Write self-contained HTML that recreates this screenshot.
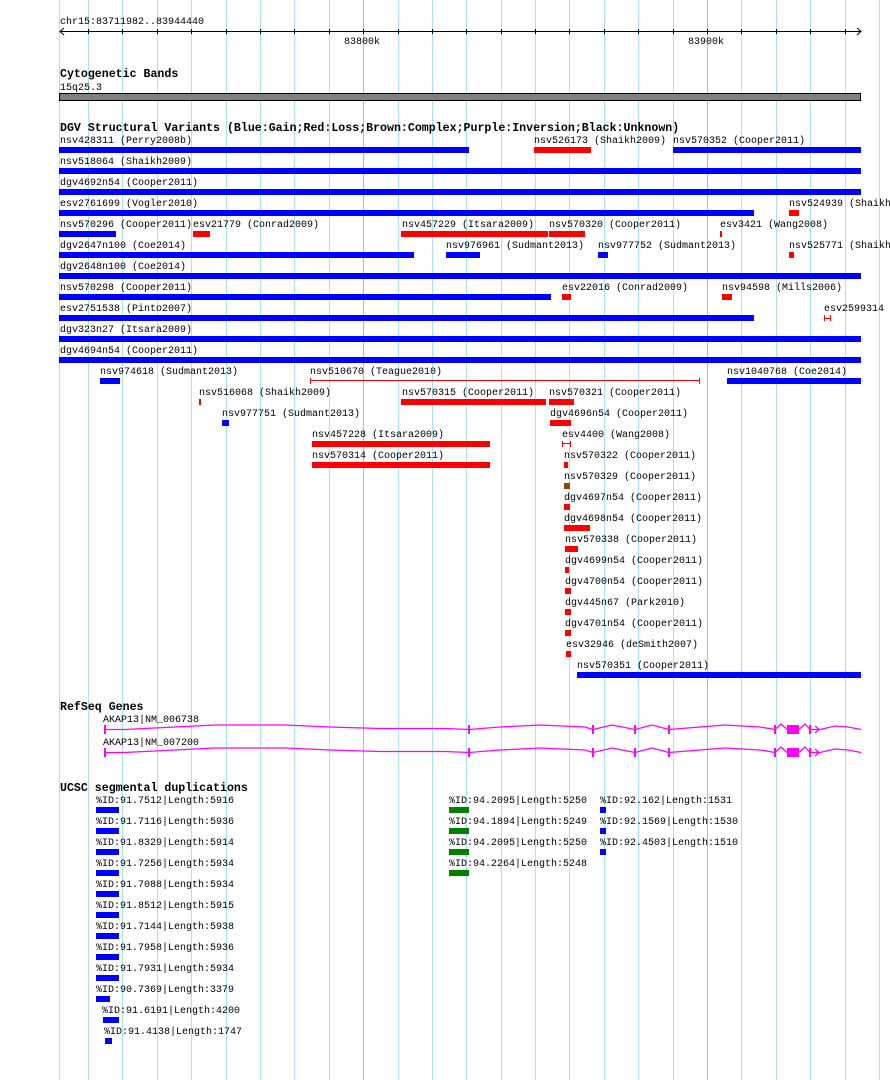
<!DOCTYPE html>
<html><head><meta charset="utf-8"><style>
html,body{margin:0;padding:0;background:#fff;}
svg{display:block;}
text{font-family:"Liberation Mono",monospace;font-size:10px;fill:#000;}
.t{font-weight:bold;font-size:11.6px;}
.b{fill:#0000ff}.r{fill:#ff0000}.g{fill:#008000}.br{fill:#8b4513}
</style></head><body>
<svg width="890" height="1080" viewBox="0 0 890 1080" xmlns="http://www.w3.org/2000/svg">
<g stroke="#a8e4ec" stroke-width="1">
<line x1="59.5" y1="0" x2="59.5" y2="1080"/><line x1="88.5" y1="0" x2="88.5" y2="1080"/><line x1="122.5" y1="0" x2="122.5" y2="1080"/><line x1="157.5" y1="0" x2="157.5" y2="1080"/><line x1="191.5" y1="0" x2="191.5" y2="1080"/><line x1="226.5" y1="0" x2="226.5" y2="1080"/><line x1="260.5" y1="0" x2="260.5" y2="1080"/><line x1="294.5" y1="0" x2="294.5" y2="1080"/><line x1="329.5" y1="0" x2="329.5" y2="1080"/><line x1="398.5" y1="0" x2="398.5" y2="1080"/><line x1="432.5" y1="0" x2="432.5" y2="1080"/><line x1="466.5" y1="0" x2="466.5" y2="1080"/><line x1="501.5" y1="0" x2="501.5" y2="1080"/><line x1="535.5" y1="0" x2="535.5" y2="1080"/><line x1="569.5" y1="0" x2="569.5" y2="1080"/><line x1="604.5" y1="0" x2="604.5" y2="1080"/><line x1="638.5" y1="0" x2="638.5" y2="1080"/><line x1="673.5" y1="0" x2="673.5" y2="1080"/><line x1="741.5" y1="0" x2="741.5" y2="1080"/><line x1="776.5" y1="0" x2="776.5" y2="1080"/><line x1="810.5" y1="0" x2="810.5" y2="1080"/><line x1="845.5" y1="0" x2="845.5" y2="1080"/><line x1="879.5" y1="0" x2="879.5" y2="1080"/>
</g>
<g stroke="#88c8e4"><line x1="363.5" y1="0" x2="363.5" y2="1080"/><line x1="707.5" y1="0" x2="707.5" y2="1080"/></g>
<!-- ruler -->
<text x="60" y="24">chr15:83711982..83944440</text>
<g stroke="#000" stroke-width="1">
<line x1="60" y1="31.5" x2="861" y2="31.5"/>
<polyline points="64,28 60,31.5 64,35" fill="none"/>
<polyline points="857,28 861,31.5 857,35" fill="none"/>
<line x1="88.5" y1="29" x2="88.5" y2="34"/><line x1="122.5" y1="29" x2="122.5" y2="34"/><line x1="157.5" y1="29" x2="157.5" y2="34"/><line x1="191.5" y1="29" x2="191.5" y2="34"/><line x1="226.5" y1="29" x2="226.5" y2="34"/><line x1="260.5" y1="29" x2="260.5" y2="34"/><line x1="294.5" y1="29" x2="294.5" y2="34"/><line x1="329.5" y1="29" x2="329.5" y2="34"/><line x1="363.5" y1="29" x2="363.5" y2="34"/><line x1="398.5" y1="29" x2="398.5" y2="34"/><line x1="432.5" y1="29" x2="432.5" y2="34"/><line x1="466.5" y1="29" x2="466.5" y2="34"/><line x1="501.5" y1="29" x2="501.5" y2="34"/><line x1="535.5" y1="29" x2="535.5" y2="34"/><line x1="569.5" y1="29" x2="569.5" y2="34"/><line x1="604.5" y1="29" x2="604.5" y2="34"/><line x1="638.5" y1="29" x2="638.5" y2="34"/><line x1="673.5" y1="29" x2="673.5" y2="34"/><line x1="707.5" y1="29" x2="707.5" y2="34"/><line x1="741.5" y1="29" x2="741.5" y2="34"/><line x1="776.5" y1="29" x2="776.5" y2="34"/><line x1="810.5" y1="29" x2="810.5" y2="34"/><line x1="845.5" y1="29" x2="845.5" y2="34"/>
</g>
<text x="344" y="44">83800k</text><text x="688" y="44">83900k</text>
<!-- cyto -->
<text class="t" x="60" y="77">Cytogenetic Bands</text>
<text x="60" y="90">15q25.3</text>
<rect x="59.5" y="93.5" width="801" height="7" fill="#808080" stroke="#000"/>
<!-- DGV -->
<text class="t" x="60" y="131">DGV Structural Variants (Blue:Gain;Red:Loss;Brown:Complex;Purple:Inversion;Black:Unknown)</text>
<g>
<text x="60" y="143">nsv428311 (Perry2008b)</text><rect class="b" x="59" y="147" width="410" height="6"/>
<text x="534" y="143">nsv526173 (Shaikh2009)</text><rect class="r" x="534" y="147" width="57" height="6"/>
<text x="673" y="143">nsv570352 (Cooper2011)</text><rect class="b" x="673" y="147" width="188" height="6"/>
<text x="60" y="164">nsv518064 (Shaikh2009)</text><rect class="b" x="59" y="168" width="802" height="6"/>
<text x="60" y="185">dgv4692n54 (Cooper2011)</text><rect class="b" x="59" y="189" width="802" height="6"/>
<text x="60" y="206">esv2761699 (Vogler2010)</text><rect class="b" x="59" y="210" width="695" height="6"/>
<text x="789" y="206">nsv524939 (Shaikh2009)</text><rect class="r" x="789" y="210" width="10" height="6"/>
<text x="60" y="227">nsv570296 (Cooper2011)</text><rect class="b" x="59" y="231" width="57" height="6"/>
<text x="193" y="227">esv21779 (Conrad2009)</text><rect class="r" x="193" y="231" width="17" height="6"/>
<text x="402" y="227">nsv457229 (Itsara2009)</text><rect class="r" x="401" y="231" width="147" height="6"/>
<text x="549" y="227">nsv570320 (Cooper2011)</text><rect class="r" x="549" y="231" width="36" height="6"/>
<text x="720" y="227">esv3421 (Wang2008)</text><rect class="r" x="720" y="231" width="2" height="6"/>
<text x="60" y="248">dgv2647n100 (Coe2014)</text><rect class="b" x="59" y="252" width="355" height="6"/>
<text x="446" y="248">nsv976961 (Sudmant2013)</text><rect class="b" x="446" y="252" width="34" height="6"/>
<text x="598" y="248">nsv977752 (Sudmant2013)</text><rect class="b" x="598" y="252" width="10" height="6"/>
<text x="789" y="248">nsv525771 (Shaikh2009)</text><rect class="r" x="789" y="252" width="5" height="6"/>
<text x="60" y="269">dgv2648n100 (Coe2014)</text><rect class="b" x="59" y="273" width="802" height="6"/>
<text x="60" y="290">nsv570298 (Cooper2011)</text><rect class="b" x="59" y="294" width="492" height="6"/>
<text x="562" y="290">esv22016 (Conrad2009)</text><rect class="r" x="562" y="294" width="9" height="6"/>
<text x="722" y="290">nsv94598 (Mills2006)</text><rect class="r" x="722" y="294" width="10" height="6"/>
<text x="60" y="311">esv2751538 (Pinto2007)</text><rect class="b" x="59" y="315" width="695" height="6"/>
<text x="824" y="311">esv2599314</text>
<g stroke="#f00"><line x1="824.5" y1="315" x2="824.5" y2="321"/><line x1="830.5" y1="315" x2="830.5" y2="321"/><line x1="824" y1="318.5" x2="831" y2="318.5"/></g>
<text x="60" y="332">dgv323n27 (Itsara2009)</text><rect class="b" x="59" y="336" width="802" height="6"/>
<text x="60" y="353">dgv4694n54 (Cooper2011)</text><rect class="b" x="59" y="357" width="802" height="6"/>
<text x="100" y="374">nsv974618 (Sudmant2013)</text><rect class="b" x="100" y="378" width="20" height="6"/>
<text x="310" y="374">nsv510670 (Teague2010)</text>
<g stroke="#f00"><line x1="310" y1="380.5" x2="700" y2="380.5"/><line x1="310.5" y1="378" x2="310.5" y2="384"/><line x1="699.5" y1="378" x2="699.5" y2="384"/></g>
<text x="727" y="374">nsv1040768 (Coe2014)</text><rect class="b" x="727" y="378" width="134" height="6"/>
<text x="199" y="395">nsv516068 (Shaikh2009)</text><rect class="r" x="199" y="399" width="2" height="6"/>
<text x="402" y="395">nsv570315 (Cooper2011)</text><rect class="r" x="401" y="399" width="145" height="6"/>
<text x="549" y="395">nsv570321 (Cooper2011)</text><rect class="r" x="549" y="399" width="25" height="6"/>
<text x="222" y="416">nsv977751 (Sudmant2013)</text><rect class="b" x="222" y="420" width="7" height="6"/>
<text x="550" y="416">dgv4696n54 (Cooper2011)</text><rect class="r" x="550" y="420" width="21" height="6"/>
<text x="312" y="437">nsv457228 (Itsara2009)</text><rect class="r" x="312" y="441" width="178" height="6"/>
<text x="562" y="437">esv4400 (Wang2008)</text>
<g stroke="#f00"><line x1="562.5" y1="441" x2="562.5" y2="447"/><line x1="570.5" y1="441" x2="570.5" y2="447"/><line x1="562" y1="443.5" x2="571" y2="443.5"/></g>
<text x="312" y="458">nsv570314 (Cooper2011)</text><rect class="r" x="312" y="462" width="178" height="6"/>
<text x="564" y="458">nsv570322 (Cooper2011)</text><rect class="r" x="564" y="462" width="4" height="6"/>
<text x="564" y="479">nsv570329 (Cooper2011)</text><rect class="br" x="564" y="483" width="6" height="6"/>
<text x="564" y="500">dgv4697n54 (Cooper2011)</text><rect class="r" x="564" y="504" width="6" height="6"/>
<text x="564" y="521">dgv4698n54 (Cooper2011)</text><rect class="r" x="564" y="525" width="26" height="6"/>
<text x="565" y="542">nsv570338 (Cooper2011)</text><rect class="r" x="565" y="546" width="13" height="6"/>
<text x="565" y="563">dgv4699n54 (Cooper2011)</text><rect class="r" x="565" y="567" width="4" height="6"/>
<text x="565" y="584">dgv4700n54 (Cooper2011)</text><rect class="r" x="565" y="588" width="6" height="6"/>
<text x="565" y="605">dgv445n67 (Park2010)</text><rect class="r" x="565" y="609" width="6" height="6"/>
<text x="565" y="626">dgv4701n54 (Cooper2011)</text><rect class="r" x="565" y="630" width="6" height="6"/>
<text x="566" y="647">esv32946 (deSmith2007)</text><rect class="r" x="566" y="651" width="5" height="6"/>
<text x="577" y="668">nsv570351 (Cooper2011)</text><rect class="b" x="577" y="672" width="284" height="6"/>
</g>
<!-- RefSeq -->
<text class="t" x="60" y="710">RefSeq Genes</text>
<text x="103" y="722">AKAP13|NM_006738</text>
<text x="103" y="745">AKAP13|NM_007200</text>
<g id="gene" stroke="#ff00ff" fill="none" stroke-width="1.3">
<polyline points="105,729.5 125,729.5 175,727 215,725 285,725 330,727 380,728.5 445,728.5 469,729.5"/>
<polyline points="469,729.5 500,727 540,725 585,727 593,729.5"/>
<polyline points="593,729.5 612,725 635,729.5"/>
<polyline points="635,729.5 652,725 669,729.5"/>
<polyline points="669,729.5 700,727 725,725 760,727 775,729.5"/>
<polyline points="775,729.5 781,724 787,729.5"/>
<polyline points="799,729.5 805,724 810,729.5"/>
<polyline points="810,729.5 820,729.5"/>
<polyline points="815,726 819,729.5 815,733"/>
<polyline points="820,729.5 835,726 848,727 861,729.5"/>
<line x1="105" y1="725" x2="105" y2="734" stroke-width="2"/>
<line x1="469" y1="725" x2="469" y2="734" stroke-width="2"/>
<line x1="593" y1="725" x2="593" y2="734" stroke-width="2"/>
<line x1="635" y1="725" x2="635" y2="734" stroke-width="2"/>
<line x1="669" y1="725" x2="669" y2="734" stroke-width="2"/>
<line x1="775" y1="725" x2="775" y2="734" stroke-width="2"/>
<line x1="810" y1="725" x2="810" y2="734" stroke-width="2"/>
<rect x="787" y="725" width="12" height="9" fill="#ff00ff" stroke="none"/>
</g>
<use href="#gene" y="23"/>
<!-- segdups -->
<text class="t" x="60" y="791">UCSC segmental duplications</text>
<g>
<text x="96" y="803">%ID:91.7512|Length:5916</text><rect class="b" x="96" y="807" width="23" height="6"/>
<text x="96" y="824">%ID:91.7116|Length:5936</text><rect class="b" x="96" y="828" width="23" height="6"/>
<text x="96" y="845">%ID:91.8329|Length:5914</text><rect class="b" x="96" y="849" width="23" height="6"/>
<text x="96" y="866">%ID:91.7256|Length:5934</text><rect class="b" x="96" y="870" width="23" height="6"/>
<text x="96" y="887">%ID:91.7088|Length:5934</text><rect class="b" x="96" y="891" width="23" height="6"/>
<text x="96" y="908">%ID:91.8512|Length:5915</text><rect class="b" x="96" y="912" width="23" height="6"/>
<text x="96" y="929">%ID:91.7144|Length:5938</text><rect class="b" x="96" y="933" width="23" height="6"/>
<text x="96" y="950">%ID:91.7958|Length:5936</text><rect class="b" x="96" y="954" width="23" height="6"/>
<text x="96" y="971">%ID:91.7931|Length:5934</text><rect class="b" x="96" y="975" width="23" height="6"/>
<text x="96" y="992">%ID:90.7369|Length:3379</text><rect class="b" x="96" y="996" width="14" height="6"/>
<text x="102" y="1013">%ID:91.6191|Length:4200</text><rect class="b" x="103" y="1017" width="16" height="6"/>
<text x="104" y="1034">%ID:91.4138|Length:1747</text><rect class="b" x="105" y="1038" width="7" height="6"/>
<text x="449" y="803">%ID:94.2095|Length:5250</text><rect class="g" x="449" y="807" width="20" height="6"/>
<text x="449" y="824">%ID:94.1894|Length:5249</text><rect class="g" x="449" y="828" width="20" height="6"/>
<text x="449" y="845">%ID:94.2095|Length:5250</text><rect class="g" x="449" y="849" width="20" height="6"/>
<text x="449" y="866">%ID:94.2264|Length:5248</text><rect class="g" x="449" y="870" width="20" height="6"/>
<text x="600" y="803">%ID:92.162|Length:1531</text><rect class="b" x="600" y="807" width="6" height="6"/>
<text x="600" y="824">%ID:92.1569|Length:1530</text><rect class="b" x="600" y="828" width="6" height="6"/>
<text x="600" y="845">%ID:92.4503|Length:1510</text><rect class="b" x="600" y="849" width="6" height="6"/>
</g>
</svg>
</body></html>
